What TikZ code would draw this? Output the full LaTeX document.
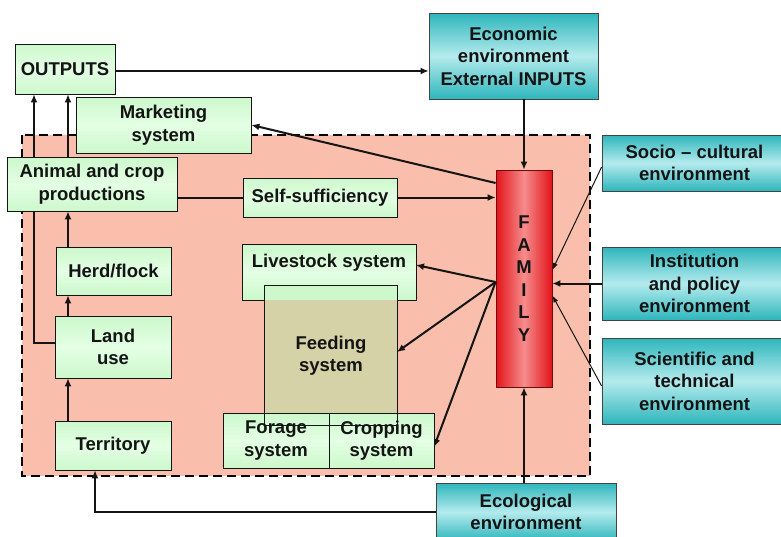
\documentclass[tikz,border=0pt]{standalone}
\usepackage{fontspec}
\setmainfont{Liberation Sans}
\usetikzlibrary{arrows.meta,calc}
\definecolor{salmon}{RGB}{249,190,172}
\definecolor{boxgreen}{RGB}{204,248,204}
\definecolor{boxgreenlt}{RGB}{228,255,228}
\definecolor{khaki}{RGB}{214,210,168}
\definecolor{tealdk}{RGB}{46,182,188}
\definecolor{teallt}{RGB}{180,235,237}
\definecolor{famred}{RGB}{226,20,26}
\definecolor{fampink}{RGB}{246,140,140}
\definecolor{ink}{RGB}{20,20,20}
\newcommand\dfont{\fontsize{18.5}{22.5}\selectfont\bfseries}
\tikzset{
  gbox/.style={draw=ink, line width=0.8pt, top color=boxgreen, bottom color=boxgreen, middle color=boxgreenlt, font=\dfont, text=ink, align=center, inner sep=0pt},
  tbox/.style={draw=ink!80, line width=0.8pt, top color=tealdk, bottom color=tealdk, middle color=teallt, font=\dfont, text=ink, align=center, inner sep=0pt},
  arr/.style={line width=2pt, draw=ink, -{Latex[length=8pt,width=7pt]}},
  thinarr/.style={line width=1pt, draw=ink, -{Latex[length=7pt,width=5pt]}},
  link/.style={line width=2pt, draw=ink},
}
\begin{document}
\begin{tikzpicture}[x=1pt,y=-1pt]
\useasboundingbox (0,0) rectangle (781,536);
% system area
\draw[fill=salmon, line width=1.6pt, dash pattern=on 9pt off 5pt] (22,135) rectangle (590,476);

% nodes (positions)
\coordinate (colA) at (68,0);
\path
  (65,69)      node[gbox, minimum width=100pt, minimum height=50pt] (outputs) {OUTPUTS}
  (163.5,125)  node[gbox, minimum width=175pt, minimum height=56pt] (market) {Marketing\\system}
  (92,184)     node[gbox, minimum width=170pt, minimum height=54pt] (animal) {Animal and crop\\productions}
  (320,197.5)  node[gbox, minimum width=154pt, minimum height=39pt] (self) {Self-sufficiency}
  (113.5,271)  node[gbox, minimum width=115pt, minimum height=48pt] (herd) {Herd/flock}
  (113,347)    node[gbox, minimum width=116pt, minimum height=62pt] (land) {Land\\use}
  (113,445.5)  node[gbox, minimum width=116pt, minimum height=49pt] (terr) {Territory}
  (513.5,56)   node[tbox, minimum width=169pt, minimum height=86pt] (econ) {Economic\\environment\\External INPUTS}
  (694.5,163)  node[tbox, minimum width=185pt, minimum height=56pt] (socio) {Socio -- cultural\\environment}
  (694.5,283.5)node[tbox, minimum width=185pt, minimum height=73pt] (inst) {Institution\\and policy\\environment}
  (694.5,381)  node[tbox, minimum width=185pt, minimum height=86pt] (sci) {Scientific and\\technical\\environment}
  (526,512)    node[tbox, minimum width=180pt, minimum height=58pt] (eco) {Ecological\\environment}
  (524,278.5)  node[draw=ink!60!red, line width=0.8pt, left color=famred, right color=famred, middle color=fampink, minimum width=56pt, minimum height=217pt, font=\dfont, text=ink, align=center, inner sep=0pt] (family) {F\\A\\M\\I\\L\\Y};

\coordinate (liveE) at (416,265);
\coordinate (feedE) at (397,352);
\coordinate (cropE) at (434,447);

% connectors (behind the green boxes)
\draw[arr] (outputs.east |- 0,71) -- (econ.west |- 0,71);
\draw[arr] (family.north |- econ.south) -- (family.north);
\draw[arr] ([yshift=95.5pt]family.west) -- (market.east);
\draw[arr] (self.east) -- (self.east -| family.west);
\draw[link] (animal.east |- self.west) -- (self.west);
\coordinate (hub) at ([yshift=-3.5pt]family.west);
\draw[arr] (hub) -- (liveE);
\draw[arr] (hub) -- (feedE);
\draw[arr] (hub) -- (cropE);
\draw[arr] (colA |- terr.north) -- (colA |- land.south);
\draw[arr] (colA |- land.north) -- (colA |- herd.south);
\draw[arr] (colA |- herd.north) -- (colA |- animal.south);
\draw[arr] (colA |- animal.north) -- (colA |- outputs.south);
\draw[arr] ([yshift=4pt]land.west) -| ([xshift=-31pt]outputs.south);
\draw[arr] (eco.west) -| ([xshift=-18pt]terr.south);
\draw[arr] (family.south |- eco.north) -- (family.south);
\draw[thinarr] ([yshift=-4pt]socio.west) -- ([yshift=8.5pt]family.east);
\draw[arr] (inst.west) -- (inst.west -| family.east);
\draw[thinarr] ([yshift=-5pt]sci.west) -- ([yshift=-17pt]family.east);

% redraw boxes over connectors
\path
  (65,69)      node[gbox, minimum width=100pt, minimum height=50pt] {OUTPUTS}
  (163.5,125)  node[gbox, minimum width=175pt, minimum height=56pt] {Marketing\\system}
  (92,184)     node[gbox, minimum width=170pt, minimum height=54pt] {Animal and crop\\productions}
  (320,197.5)  node[gbox, minimum width=154pt, minimum height=39pt] {Self-sufficiency}
  (113.5,271)  node[gbox, minimum width=115pt, minimum height=48pt] {Herd/flock}
  (113,347)    node[gbox, minimum width=116pt, minimum height=62pt] {Land\\use}
  (113,445.5)  node[gbox, minimum width=116pt, minimum height=49pt] {Territory};

% livestock / feeding / forage / cropping
\node[gbox, minimum width=174pt, minimum height=56pt, label={[font=\dfont, text=ink, yshift=9pt]center:Livestock system}] (live) at (329,272) {};
\node[fill=khaki, minimum width=132pt, minimum height=139pt, font=\dfont, text=ink, align=center, inner sep=0pt] (feed) at (331,355.5) {Feeding\\system};
\fill[boxgreen] (feed.north west) rectangle (feed.east |- live.south);
\node[gbox, minimum width=106pt, minimum height=55pt] (forage) at (276,440.5) {Forage\\system};
\node[gbox, minimum width=105pt, minimum height=55pt] (crop) at (381.5,440.5) {Cropping\\system};
\draw[ink, line width=0.8pt] (feed.north west) rectangle (feed.south east);
\end{tikzpicture}
\end{document}
